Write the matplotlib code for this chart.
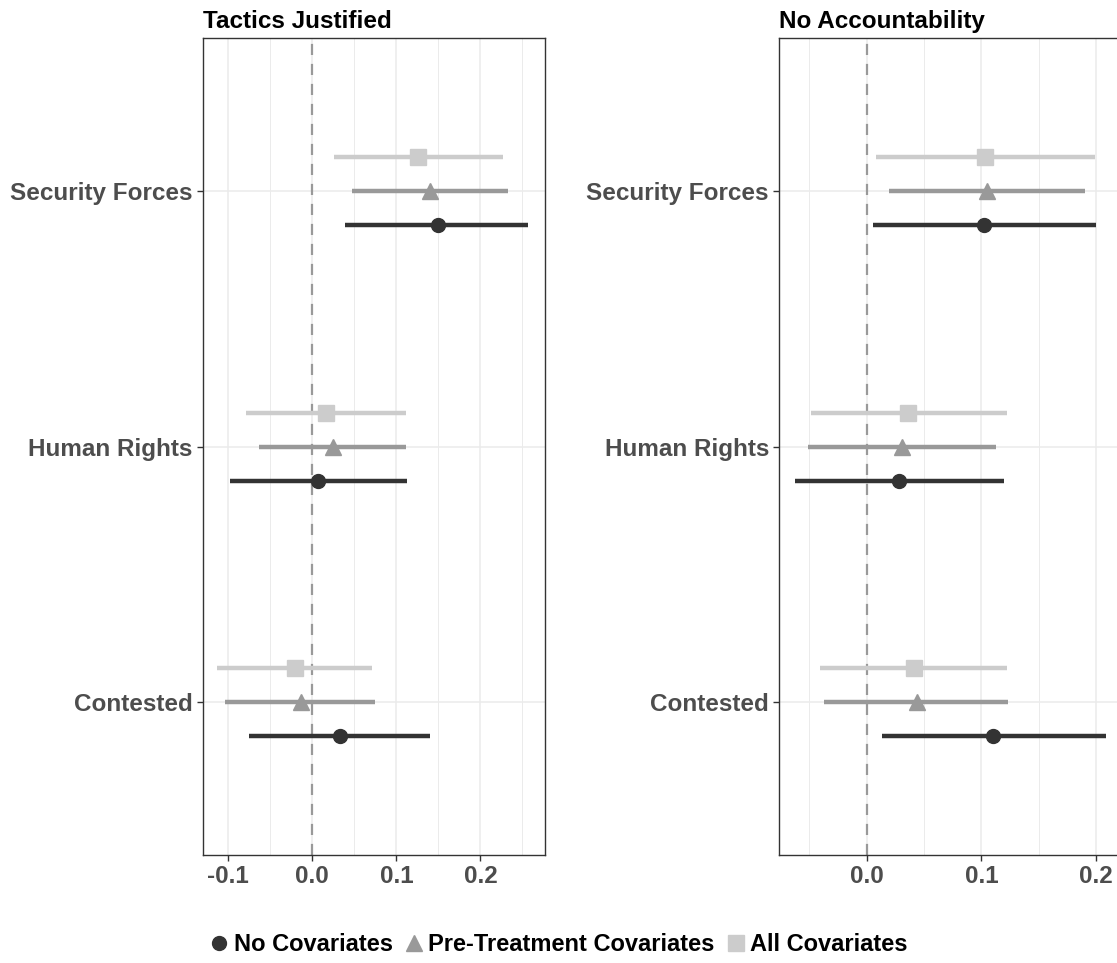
import matplotlib.pyplot as plt
from matplotlib.lines import Line2D
from matplotlib.ticker import MultipleLocator

plt.rcParams['font.family'] = ['Liberation Sans', 'DejaVu Sans']
plt.rcParams['font.weight'] = 'bold'

categories = ["Security Forces", "Human Rights", "Contested"]
models = ["No Covariates", "Pre-Treatment Covariates", "All Covariates"]

# rows: models (none, pre-treatment, all); cols: categories
tj_est = [[0.149, 0.007, 0.033],
          [0.140, 0.025, -0.014],
          [0.126, 0.016, -0.021]]
tj_lo = [[0.039, -0.098, -0.076],
         [0.047, -0.064, -0.104],
         [0.026, -0.079, -0.113]]
tj_hi = [[0.257, 0.113, 0.140],
         [0.233, 0.111, 0.075],
         [0.227, 0.111, 0.071]]

na_est = [[0.102, 0.028, 0.110],
          [0.105, 0.031, 0.044],
          [0.103, 0.036, 0.041]]
na_lo = [[0.005, -0.063, 0.013],
         [0.019, -0.051, -0.037],
         [0.008, -0.049, -0.041]]
na_hi = [[0.200, 0.120, 0.209],
         [0.190, 0.113, 0.123],
         [0.199, 0.122, 0.122]]

colors = ['#333333', '#999999', '#cccccc']
markers = ['o', '^', 's']
msizes = [10, 12, 11]
offsets = [-0.133, 0.0, 0.133]
ypos = [3, 2, 1]

fig = plt.figure(figsize=(11.17, 9.63), dpi=100)
ax1 = fig.add_axes([0.1815, 0.1121, 0.3065, 0.8484])
ax2 = fig.add_axes([0.6977, 0.1121, 0.3033, 0.8484])


def draw(ax, est, lo, hi, title, xlim):
    ax.set_xlim(*xlim)
    ax.set_ylim(0.4, 3.6)
    ax.xaxis.set_major_locator(MultipleLocator(0.1))
    ax.xaxis.set_minor_locator(MultipleLocator(0.05))
    ax.grid(which='major', color='#ebebeb', lw=1.1, zorder=0)
    ax.grid(which='minor', axis='x', color='#ebebeb', lw=0.7, zorder=0)
    ax.set_axisbelow(True)
    ax.axvline(0, color='#999999', lw=1.6, ls=(0, (5, 4)), zorder=1)
    for m in range(3):
        for c in range(3):
            y = ypos[c] + offsets[m]
            ax.hlines(y, lo[m][c], hi[m][c], color=colors[m], lw=3.2, zorder=2)
            ax.plot(est[m][c], y, marker=markers[m], color=colors[m],
                    ms=msizes[m], mec=colors[m], zorder=3)
    ax.set_yticks(ypos)
    ax.set_yticklabels(categories)
    ax.xaxis.set_major_formatter(plt.FuncFormatter(lambda v, p: f"{v:.1f}"))
    ax.tick_params(axis='both', which='major', labelsize=17.5, colors='#333333',
                   labelcolor='#4d4d4d', length=4, width=1)
    ax.tick_params(axis='x', which='minor', length=0)
    for lab in ax.get_xticklabels() + ax.get_yticklabels():
        lab.set_fontweight('bold')
    for s in ax.spines.values():
        s.set_color('#333333')
        s.set_linewidth(1.0)
    ax.set_title(title, loc='left', fontsize=17.5, fontweight='bold', pad=7)


draw(ax1, tj_est, tj_lo, tj_hi, "Tactics Justified", (-0.1305, 0.277))
draw(ax2, na_est, na_lo, na_hi, "No Accountability", (-0.0763, 0.2192))

handles = [Line2D([], [], ls='none', marker=markers[i], color=colors[i],
                  ms=msizes[i]) for i in range(3)]
fig.legend(handles, models, loc='center', bbox_to_anchor=(0.498, 0.019), ncol=3,
           frameon=False, handletextpad=0.0, columnspacing=0.3, handlelength=1.2,
           prop={'size': 17, 'weight': 'bold'})

fig.savefig('out.png', dpi=100)
